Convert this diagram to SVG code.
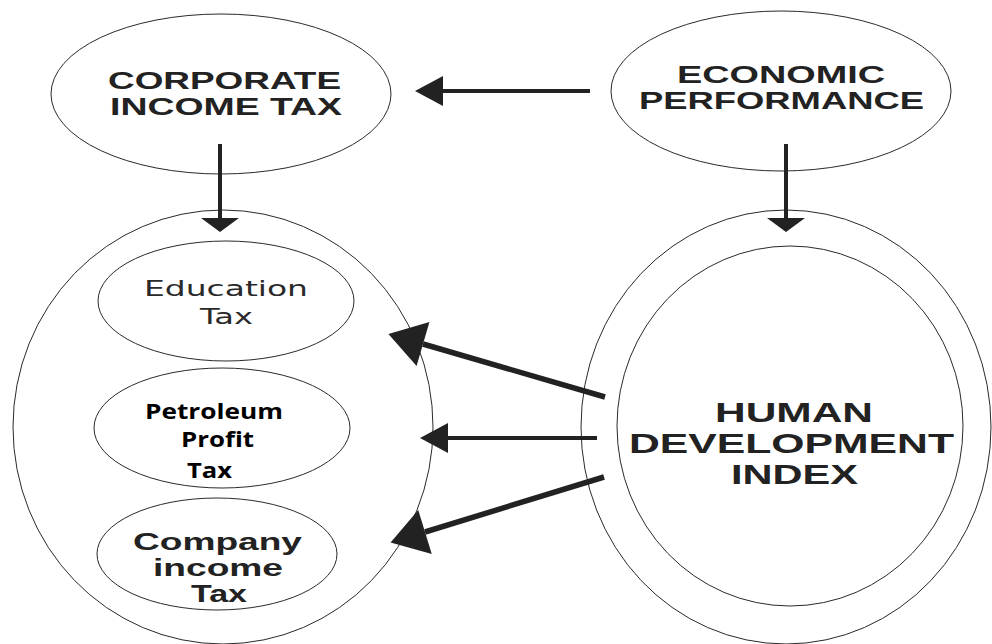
<svg xmlns="http://www.w3.org/2000/svg" width="992" height="644" viewBox="0 0 992 644">
  <style>
    .shape { fill: #ffffff; stroke: #2a2a2a; stroke-width: 1; }
    .caps { font-family: "Liberation Sans", Arial, sans-serif; font-weight: bold; fill: #222222; }
    .plain { font-family: "DejaVu Sans", "Liberation Sans", sans-serif; fill: #2a2a2a; }
    .calib { font-family: "Open Sans", "Liberation Sans", sans-serif; font-weight: bold; fill: #000000; }
    .link { stroke: #222222; fill: none; }
    .head { fill: #222222; stroke: none; }
  </style>
  <defs>
    <marker id="headBig" markerUnits="userSpaceOnUse" markerWidth="36" markerHeight="46" refX="0" refY="23" orient="auto" overflow="visible">
      <path class="head" d="M0,0 L36,23 L0,46 Z"/>
    </marker>
    <marker id="headSmall" markerUnits="userSpaceOnUse" markerWidth="28" markerHeight="30" refX="0" refY="15" orient="auto" overflow="visible">
      <path class="head" d="M0,0 L28,15 L0,30 Z"/>
    </marker>
    <marker id="headFlat" markerUnits="userSpaceOnUse" markerWidth="14" markerHeight="38" refX="0" refY="19" orient="auto" overflow="visible">
      <path class="head" d="M0,0 L14,19 L0,38 Z"/>
    </marker>
  </defs>

  <rect width="992" height="644" fill="#ffffff"/>

  <!-- tax group -->
  <g id="tax-group">
    <ellipse class="shape" cx="223" cy="427" rx="210" ry="217"/>
  </g>

  <g id="education-tax">
    <ellipse class="shape" cx="226" cy="301" rx="128" ry="60"/>
    <text class="plain" font-size="22" x="144" y="296" textLength="164" lengthAdjust="spacingAndGlyphs">Education</text>
    <text class="plain" font-size="22" x="200" y="324" textLength="53" lengthAdjust="spacingAndGlyphs">Tax</text>
  </g>

  <g id="petroleum-profit-tax">
    <ellipse class="shape" cx="222" cy="428" rx="128" ry="60"/>
    <text class="calib" font-size="22" x="145" y="419" textLength="138" lengthAdjust="spacingAndGlyphs">Petroleum</text>
    <text class="calib" font-size="22" x="181" y="447" textLength="73" lengthAdjust="spacingAndGlyphs">Profit</text>
    <text class="calib" font-size="22" x="187" y="478" textLength="45" lengthAdjust="spacingAndGlyphs">Tax</text>
  </g>

  <g id="company-income-tax">
    <ellipse class="shape" cx="217" cy="554" rx="120" ry="56"/>
    <text class="caps" font-size="24" x="133" y="550" textLength="169" lengthAdjust="spacingAndGlyphs">Company</text>
    <text class="caps" font-size="24" x="153" y="576" textLength="130" lengthAdjust="spacingAndGlyphs">income</text>
    <text class="caps" font-size="24" x="191" y="602" textLength="56" lengthAdjust="spacingAndGlyphs">Tax</text>
  </g>

  <g id="corporate-income-tax">
    <ellipse class="shape" cx="221" cy="94" rx="170" ry="80"/>
    <text class="caps" font-size="23" x="108" y="89" textLength="233" lengthAdjust="spacingAndGlyphs">CORPORATE</text>
    <text class="caps" font-size="23" x="110" y="115" textLength="232" lengthAdjust="spacingAndGlyphs">INCOME TAX</text>
  </g>

  <g id="economic-performance">
    <ellipse class="shape" cx="781" cy="91" rx="170" ry="80"/>
    <text class="caps" font-size="24" x="677" y="83" textLength="208" lengthAdjust="spacingAndGlyphs">ECONOMIC</text>
    <text class="caps" font-size="24" x="639" y="109" textLength="285" lengthAdjust="spacingAndGlyphs">PERFORMANCE</text>
  </g>

  <g id="human-development-index">
    <ellipse class="shape" cx="786" cy="427" rx="205" ry="217"/>
    <ellipse class="shape" cx="790" cy="426" rx="173" ry="180"/>
    <text class="caps" font-size="28" x="715" y="422" textLength="158" lengthAdjust="spacingAndGlyphs">HUMAN</text>
    <text class="caps" font-size="28" x="629" y="453" textLength="325" lengthAdjust="spacingAndGlyphs">DEVELOPMENT</text>
    <text class="caps" font-size="28" x="731" y="484" textLength="127" lengthAdjust="spacingAndGlyphs">INDEX</text>
  </g>

  <!-- connectors -->
  <g id="connectors">
    <line class="link" x1="590" y1="91" x2="443" y2="91" stroke-width="4" marker-end="url(#headSmall)"/>
    <line class="link" x1="220" y1="144" x2="220" y2="218" stroke-width="4" marker-end="url(#headFlat)"/>
    <line class="link" x1="786" y1="144" x2="786" y2="218" stroke-width="4" marker-end="url(#headFlat)"/>
    <line class="link" x1="605" y1="397" x2="423" y2="344" stroke-width="5.5" marker-end="url(#headBig)"/>
    <line class="link" x1="597" y1="438" x2="448" y2="438" stroke-width="4" marker-end="url(#headSmall)"/>
    <line class="link" x1="604" y1="477" x2="425" y2="532" stroke-width="5.5" marker-end="url(#headBig)"/>
  </g>
</svg>
